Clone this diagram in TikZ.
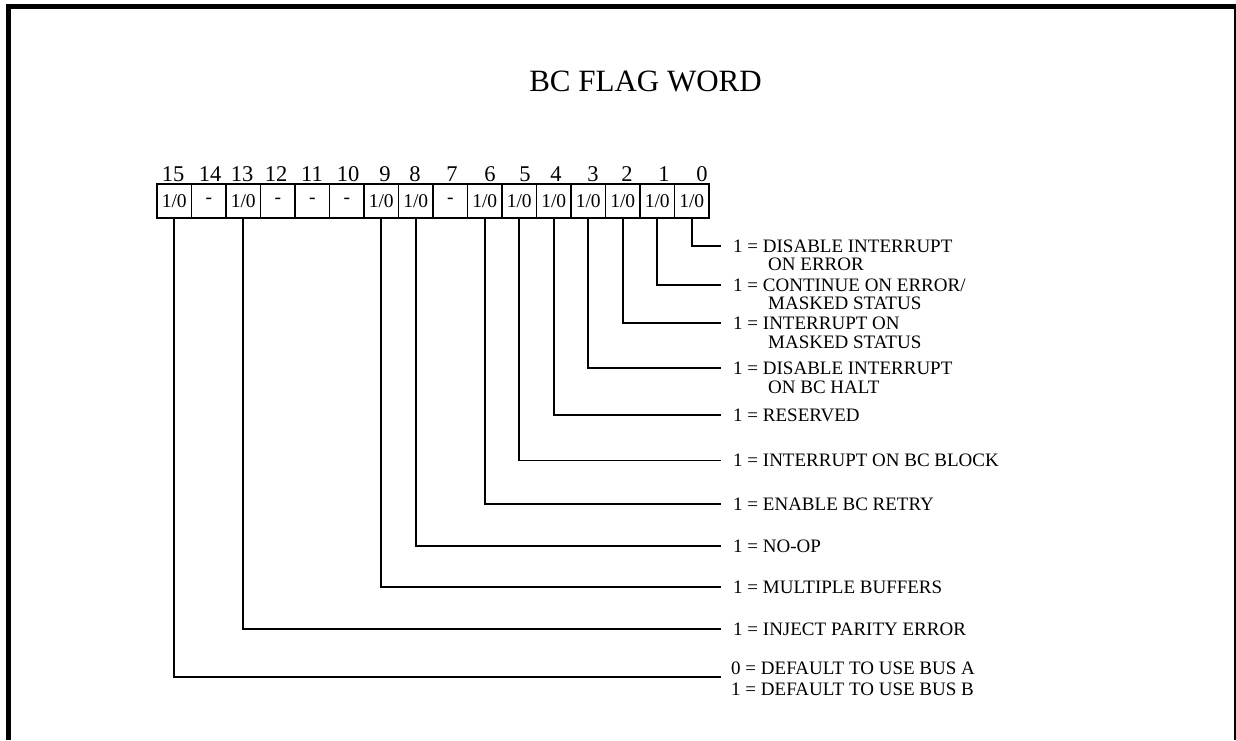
\documentclass[tikz,border=0pt]{standalone}
\usepackage{fontspec}
\setmainfont{Liberation Serif}
\begin{document}
\begin{tikzpicture}[x=1pt,y=-1pt,
  cell/.style={draw, line width=1.4pt, minimum width=34.5pt, minimum height=34pt, inner sep=0pt, font=\fontsize{19.5}{20}\selectfont},
  bitnum/.style={anchor=base, inner sep=0pt, font=\fontsize{22.5}{24}\selectfont},
  lab/.style={anchor=base west, inner sep=0pt, font=\fontsize{19}{20}\selectfont},
  wire/.style={line width=1.6pt},
  frame/.style={line width=5pt}]
\useasboundingbox (0,0) rectangle (1236,740);
% frame
\draw[frame] (8.5,740) -- (8.5,6.5) -- (1236,6.5);
\draw[line width=1.5pt] (1235,6.5) -- (1235,740);
% title
\node[anchor=base, inner sep=0pt, font=\fontsize{31}{32}\selectfont] (title) at (645.5,91.7) {BC FLAG WORD};
% cells
\foreach \b in {15,13,9,8,6,5,4,3,2,1,0}
  \node[cell] (c\b) at ({174.25+34.5*(15-\b)},201) {1/0};
\foreach \b in {14,12,11,10,7}
  \node[cell] (c\b) at ({174.25+34.5*(15-\b)},201) {-};
% bit numbers
\foreach \b/\x in {15/173,14/210,13/242,12/276,11/312,10/348,9/385,8/415,7/452,6/490,5/525,4/556,3/593,2/627,1/664,0/702}
  \node[bitnum] (n\b) at (\x,181) {\b};
% label end points
\foreach \b/\y in {0/246,1/285,2/322.7,3/368,4/415,5/460.3,6/503.7,8/545.7,9/586.7,13/629,15/676.7}
  \coordinate (e\b) at (721,\y);
% labels
\node[lab] (l0) at (733,252.5) {1 = DISABLE INTERRUPT};
\node[lab] (l0b) at (768,270) {ON ERROR};
\node[lab] (l1) at (733,291.5) {1 = CONTINUE ON ERROR/};
\node[lab] (l1b) at (768,309.8) {MASKED STATUS};
\node[lab] (l2) at (733,329.2) {1 = INTERRUPT ON};
\node[lab] (l2b) at (768,348.2) {MASKED STATUS};
\node[lab] (l3) at (733,374.5) {1 = DISABLE INTERRUPT};
\node[lab] (l3b) at (768,393.2) {ON BC HALT};
\node[lab] (l4) at (733,421.5) {1 = RESERVED};
\node[lab] (l5) at (733,466.8) {1 = INTERRUPT ON BC BLOCK};
\node[lab] (l6) at (733,510.2) {1 = ENABLE BC RETRY};
\node[lab] (l8) at (733,552.2) {1 = NO-OP};
\node[lab] (l9) at (733,593.2) {1 = MULTIPLE BUFFERS};
\node[lab] (l13) at (733,635.5) {1 = INJECT PARITY ERROR};
\node[lab] (l15) at (731,674.5) {0 = DEFAULT TO USE BUS A};
\node[lab] (l15b) at (731,695.5) {1 = DEFAULT TO USE BUS B};
% connectors
\foreach \b in {0,1,2,3,4,5,6,8,9,13,15}
  \draw[wire] (c\b.south) |- (e\b);
\end{tikzpicture}
\end{document}
